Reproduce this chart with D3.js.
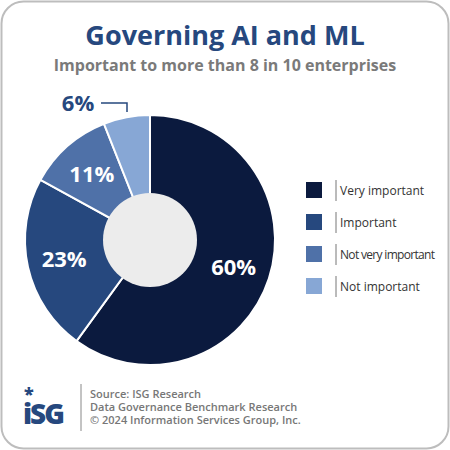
<!DOCTYPE html>
<html><head><meta charset="utf-8">
<script src="https://cdn.jsdelivr.net/npm/d3@7"></script>
<style>body{margin:0;background:#fff}text{font-family:"Open Sans",sans-serif}</style>
</head><body>
<svg id="c" width="450" height="450"></svg>
<script>
var categories = ["Very important", "Important", "Not very important", "Not important"];
var values = [60, 23, 11, 6];
var colors = ["#0b1a3e", "#26487e", "#4f71a8", "#87a7d5"];

var svg = d3.select("#c");
svg.append("rect").attr("x", 1.5).attr("y", 1.5).attr("width", 447).attr("height", 447)
  .attr("rx", 22).attr("fill", "#fff").attr("stroke", "#bdbdbd").attr("stroke-width", 2);

svg.append("text").attr("x", 225).attr("y", 45).attr("text-anchor", "middle")
  .attr("font-size", 27).attr("font-weight", 700).attr("fill", "#26487e").text("Governing AI and ML");
svg.append("text").attr("x", 225).attr("y", 71).attr("text-anchor", "middle")
  .attr("font-size", 16).attr("font-weight", 700).attr("fill", "#7a7a7a").text("Important to more than 8 in 10 enterprises");

var cx = 150, cy = 240, R = 125, r0 = 47;
var pie = d3.pie().sort(null)(values);
var arc = d3.arc().innerRadius(0).outerRadius(R);
var g = svg.append("g").attr("transform", "translate(" + cx + "," + cy + ")");
g.selectAll("path").data(pie).enter().append("path")
  .attr("d", arc).attr("fill", function(d, i){ return colors[i]; })
  .attr("stroke", "#fff").attr("stroke-width", 2);
g.append("circle").attr("r", r0).attr("fill", "#ececec");

var labelArc = d3.arc().innerRadius(88).outerRadius(88);
g.selectAll(".lbl").data(pie).enter().filter(function(d, i){ return i < 3; }).append("text")
  .attr("transform", function(d){ return "translate(" + labelArc.centroid(d) + ")"; })
  .attr("text-anchor", "middle").attr("dy", "0.35em")
  .attr("font-size", 22).attr("font-weight", 700).attr("fill", "#fff")
  .text(function(d){ return d.data + "%"; });
svg.append("text").attr("x", 78).attr("y", 111).attr("text-anchor", "middle")
  .attr("font-size", 22).attr("font-weight", 700).attr("fill", "#26487e").text(values[3] + "%");
svg.append("path").attr("d", "M101,103H127V112").attr("fill", "none").attr("stroke", "#26487e").attr("stroke-width", 1.5);

var lg = svg.selectAll(".lg").data(categories).enter().append("g")
  .attr("transform", function(d, i){ return "translate(306," + (182 + i * 32) + ")"; });
lg.append("rect").attr("width", 16).attr("height", 16).attr("fill", function(d, i){ return colors[i]; });
lg.append("line").attr("x1", 30).attr("x2", 30).attr("y1", -2).attr("y2", 19).attr("stroke", "#777");
lg.append("text").attr("x", 34).attr("y", 13).attr("font-size", 12).attr("fill", "#333")
  .attr("textLength", function(d){ return d.length > 14 ? 95 : null; })
  .text(function(d){ return d; });

// footer
svg.append("text").attr("x", 23).attr("y", 424).attr("font-size", 28).attr("font-weight", 900)
  .attr("font-family", "'DejaVu Sans',sans-serif").attr("fill", "#26487e").attr("letter-spacing", -2).text("iSG");
svg.append("text").attr("x", 24).attr("y", 400).attr("font-size", 18).attr("font-weight", 900).attr("fill", "#26487e").text("*");
svg.append("line").attr("x1", 81).attr("x2", 81).attr("y1", 384).attr("y2", 431).attr("stroke", "#888");
var ft = ["Source: ISG Research", "Data Governance Benchmark Research", "\u00a9 2024 Information Services Group, Inc."];
svg.selectAll(".ft").data(ft).enter().append("text").attr("x", 90).attr("y", function(d, i){ return 398 + i * 13; })
  .attr("font-size", 11).attr("font-weight", 600).attr("fill", "#777").text(function(d){ return d; });
</script>
</body></html>
